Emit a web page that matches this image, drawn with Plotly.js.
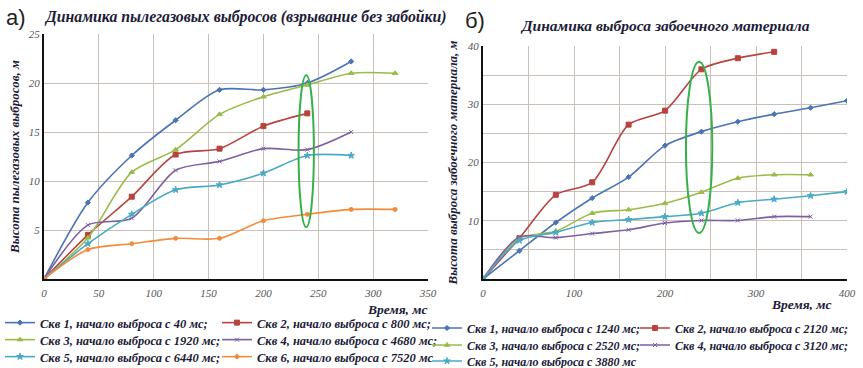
<!DOCTYPE html>
<html><head><meta charset="utf-8">
<script src="https://cdn.plot.ly/plotly-3.0.1.min.js"></script>
<style>html,body{margin:0;padding:0;background:#fff;}#chart{width:863px;height:368px;}</style>
</head><body><div id="chart"></div>
<script>
// ---- Left chart (а): dust-gas emissions ----
const leftTitle = 'Динамика пылегазовых выбросов (взрывание без забойки)';
const leftYTitle = 'Высота пылегазовых выбросов, м';
const leftNames = [
  'Скв 1, начало выброса с 40 мс;',
  'Скв 2, начало выброса с 800 мс;',
  'Скв 3, начало выброса с 1920 мс;',
  'Скв 4, начало выброса с 4680 мс;',
  'Скв 5, начало выброса с 6440 мс;',
  'Скв 6, начало выброса с 7520 мс'
];
const leftX1 = [0, 40, 80, 120, 160, 200, 240, 280];
const leftY1 = [0, 7.8, 12.6, 16.2, 19.3, 19.3, 20.0, 22.2];
const leftX2 = [0, 40, 80, 120, 160, 200, 240];
const leftY2 = [0, 4.5, 8.4, 12.7, 13.3, 15.6, 16.9];
const leftX3 = [0, 40, 80, 120, 160, 200, 240, 280, 320];
const leftY3 = [0, 4.2, 10.9, 13.2, 16.8, 18.6, 19.8, 21.0, 21.0];
const leftX4 = [0, 40, 80, 120, 160, 200, 240, 280];
const leftY4 = [0, 5.5, 6.2, 11.1, 12.0, 13.3, 13.2, 15.0];
const leftX5 = [0, 40, 80, 120, 160, 200, 240, 280];
const leftY5 = [0, 3.6, 6.6, 9.1, 9.6, 10.8, 12.6, 12.6];
const leftX6 = [0, 40, 80, 120, 160, 200, 240, 280, 320];
const leftY6 = [0, 3.0, 3.6, 4.15, 4.15, 5.95, 6.6, 7.1, 7.1];

// ---- Right chart (б): stemming material ejection ----
const rightTitle = 'Динамика выброса забоечного материала';
const rightYTitle = 'Высота выброса забоечного материала, м';
const rightNames = [
  'Скв 1, начало выброса с 1240 мс;',
  'Скв 2, начало выброса с 2120 мс;',
  'Скв 3, начало выброса с 2520 мс;',
  'Скв 4, начало выброса с 3120 мс;',
  'Скв 5, начало выброса с 3880 мс'
];
const rightX1 = [0, 40, 80, 120, 160, 200, 240, 280, 320, 360, 400];
const rightY1 = [0, 4.85, 9.7, 13.9, 17.5, 22.9, 25.3, 27.0, 28.3, 29.4, 30.6];
const rightX2 = [0, 40, 80, 120, 160, 200, 240, 280, 320];
const rightY2 = [0, 7.0, 14.45, 16.6, 26.5, 28.9, 36.0, 37.9, 39.0];
const rightX3 = [0, 40, 80, 120, 160, 200, 240, 280, 320, 360];
const rightY3 = [0, 7.0, 8.2, 11.3, 11.9, 13.0, 14.9, 17.3, 17.9, 17.9];
const rightX4 = [0, 40, 80, 120, 160, 200, 240, 280, 320, 360];
const rightY4 = [0, 7.2, 7.1, 7.8, 8.45, 9.6, 10.05, 10.05, 10.7, 10.7];
const rightX5 = [0, 40, 80, 120, 160, 200, 240, 280, 320, 360, 400];
const rightY5 = [0, 6.6, 8.0, 9.7, 10.2, 10.7, 11.3, 13.1, 13.7, 14.3, 15.0];

const xTitle = 'Время, мс';
const leftXTicks = [0, 50, 100, 150, 200, 250, 300, 350];
const leftYTicks = [5, 10, 15, 20, 25];
const rightXTicks = [0, 100, 200, 300, 400];
const rightYTicks = [10, 20, 30, 40];

const colors = ['#4a74b4', '#b8423e', '#9bbb48', '#7d5fa2', '#4aaac6', '#f28c3a'];
const symbols = ['diamond', 'square', 'triangle-up', 'x-thin-open', 'star', 'circle'];
const msizes = [4, 5, 5, 4, 5, 4];

const W = 863, H = 368;
const SERIF = 'Liberation Serif';
const serifBI = (size, color) => ({family: SERIF, size: size, weight: 'bold', style: 'italic', color: color});

function mk(x, y, i, name, xa, ya, legend, lw) {
  return {
    type: 'scatter', mode: 'lines+markers', x: x, y: y, name: name,
    xaxis: xa, yaxis: ya, legend: legend, legendwidth: lw,
    line: {color: colors[i], width: 1.6, shape: 'spline', smoothing: 0.8},
    marker: {color: colors[i], symbol: symbols[i], size: msizes[i], line: {color: colors[i], width: 1}},
    hoverinfo: 'x+y'
  };
}

const traces = [
  mk(leftX1, leftY1, 0, leftNames[0], 'x', 'y', 'legend', 172),
  mk(leftX2, leftY2, 1, leftNames[1], 'x', 'y', 'legend', 190),
  mk(leftX3, leftY3, 2, leftNames[2], 'x', 'y', 'legend2', 172),
  mk(leftX4, leftY4, 3, leftNames[3], 'x', 'y', 'legend2', 190),
  mk(leftX5, leftY5, 4, leftNames[4], 'x', 'y', 'legend3', 172),
  mk(leftX6, leftY6, 5, leftNames[5], 'x', 'y', 'legend3', 190),
  mk(rightX1, rightY1, 0, rightNames[0], 'x2', 'y2', 'legend4', 163),
  mk(rightX2, rightY2, 1, rightNames[1], 'x2', 'y2', 'legend4', 180),
  mk(rightX3, rightY3, 2, rightNames[2], 'x2', 'y2', 'legend5', 163),
  mk(rightX4, rightY4, 3, rightNames[3], 'x2', 'y2', 'legend5', 180),
  mk(rightX5, rightY5, 4, rightNames[4], 'x2', 'y2', 'legend6', 180)
];

const gridC = '#cbbfb9';
const tickF = {family: SERIF, size: 11, style: 'italic', color: '#555'};
const axBase = {
  showgrid: true, gridcolor: gridC, gridwidth: 1, zeroline: false,
  showline: true, linecolor: '#111', linewidth: 2, ticks: '',
  tickfont: tickF, fixedrange: true, ticklabelstandoff: 3, automargin: false
};

function legendRow(px, py, fs) {
  return {
    orientation: 'h', x: px / W, xanchor: 'left', y: 1 - py / H, yanchor: 'middle',
    bgcolor: 'rgba(0,0,0,0)',
    font: serifBI(fs, '#1c1c38'), itemclick: false, itemdoubleclick: false, tracegroupgap: 0
  };
}

const layout = {
  width: W, height: H,
  font: {family: SERIF},
  margin: {l: 0, r: 0, t: 0, b: 0, pad: 0, autoexpand: false},
  paper_bgcolor: '#fff', plot_bgcolor: '#fff',
  showlegend: true,
  xaxis: Object.assign({}, axBase, {domain: [44 / W, 428 / W], range: [0, 350], tickvals: leftXTicks, anchor: 'y'}),
  yaxis: Object.assign({}, axBase, {domain: [1 - 279 / H, 1 - 34 / H], range: [0, 25], tickvals: leftYTicks, anchor: 'x',
    ticklabelstandoff: 0, title: {text: leftYTitle, font: serifBI(13, '#1c1c38'), standoff: 6}}),
  xaxis2: Object.assign({}, axBase, {domain: [483 / W, 847 / W], range: [0, 400], tickvals: rightXTicks, anchor: 'y2',
    minor: {dtick: 50, tick0: 0, showgrid: true, gridcolor: gridC, gridwidth: 1}}),
  yaxis2: Object.assign({}, axBase, {domain: [1 - 279 / H, 1 - 46 / H], range: [0, 40], tickvals: rightYTicks, anchor: 'x2',
    ticklabelstandoff: 0, minor: {dtick: 5, tick0: 0, showgrid: true, gridcolor: gridC, gridwidth: 1},
    title: {text: rightYTitle, font: serifBI(13, '#1c1c38'), standoff: 6}}),
  legend: legendRow(0, 323, 12.5),
  legend2: legendRow(0, 340, 12.5),
  legend3: legendRow(0, 357, 12.5),
  legend4: legendRow(427, 328, 12),
  legend5: legendRow(427, 345, 12),
  legend6: legendRow(427, 361, 12),
  annotations: [
    {xref: 'paper', yref: 'paper', x: 4 / W, y: 1 - 17 / H, xanchor: 'left', yanchor: 'middle', showarrow: false,
     text: 'а)', font: {family: 'Liberation Sans', size: 22, color: '#222'}},
    {xref: 'paper', yref: 'paper', x: 42 / W, y: 1 - 17 / H, xanchor: 'left', yanchor: 'middle', showarrow: false,
     text: leftTitle, font: serifBI(15.8, '#1c1c38')},
    {xref: 'paper', yref: 'paper', x: 463 / W, y: 1 - 21 / H, xanchor: 'left', yanchor: 'middle', showarrow: false,
     text: 'б)', font: {family: 'Liberation Sans', size: 22, color: '#222'}},
    {xref: 'paper', yref: 'paper', x: 518 / W, y: 1 - 25 / H, xanchor: 'left', yanchor: 'middle', showarrow: false,
     text: rightTitle, font: serifBI(15.5, '#1c1c38')},
    {xref: 'paper', yref: 'paper', x: 430 / W, y: 1 - 309 / H, xanchor: 'right', yanchor: 'middle', showarrow: false,
     text: xTitle, font: serifBI(13.5, '#1c1c38')},
    {xref: 'paper', yref: 'paper', x: 834 / W, y: 1 - 304 / H, xanchor: 'right', yanchor: 'middle', showarrow: false,
     text: xTitle, font: serifBI(13.5, '#1c1c38')}
  ],
  shapes: [
    {type: 'circle', xref: 'x', yref: 'y', x0: 232, x1: 246, y0: 5.3, y1: 20.8, line: {color: '#35b04a', width: 2}},
    {type: 'circle', xref: 'x2', yref: 'y2', x0: 223, x1: 252, y0: 7.9, y1: 37.3, line: {color: '#35b04a', width: 2}}
  ]
};

Plotly.newPlot('chart', traces, layout, {displayModeBar: false, staticPlot: true});
</script>
</body></html>
